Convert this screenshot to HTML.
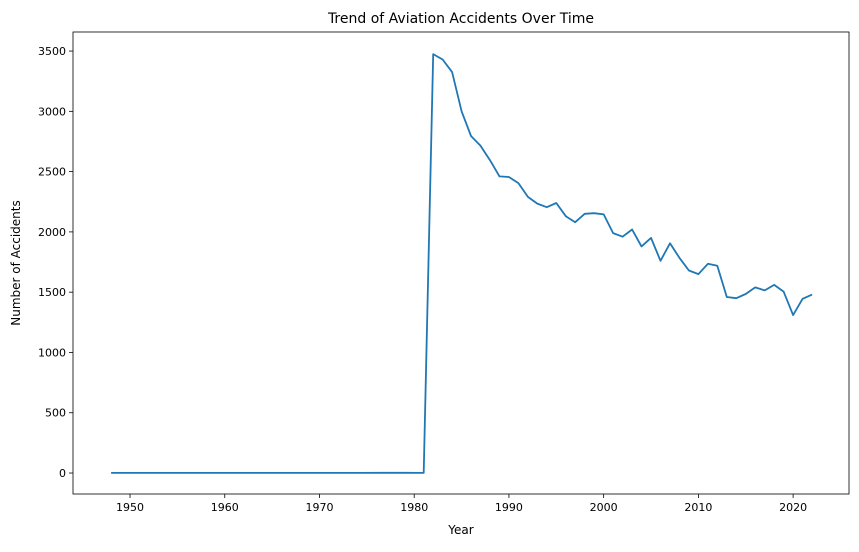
<!DOCTYPE html>
<html><head><meta charset="utf-8"><style>
body{margin:0;background:#fff;font-family:"Liberation Sans","DejaVu Sans",sans-serif}
svg text{font-family:"DejaVu Sans","Liberation Sans",sans-serif}
</style></head><body>
<svg id="chart" width="859" height="547" viewBox="0 0 859 547" xmlns="http://www.w3.org/2000/svg">
<rect width="859" height="547" fill="#fff"/>
<text x="461" y="23" text-anchor="middle" font-size="14">Trend of Aviation Accidents Over Time</text>
<g id="axes"></g>
<text x="461" y="534" text-anchor="middle" font-size="12">Year</text>
<text transform="translate(20,263) rotate(-90)" text-anchor="middle" font-size="12">Number of Accidents</text>
</svg>
<script>
const years=[1948,1962,1974,1977,1979,1981,1982,1983,1984,1985,1986,1987,1988,1989,1990,1991,1992,1993,1994,1995,1996,1997,1998,1999,2000,2001,2002,2003,2004,2005,2006,2007,2008,2009,2010,2011,2012,2013,2014,2015,2016,2017,2018,2019,2020,2021,2022];
const accidents=[1,1,1,2,2,1,3475,3430,3325,3000,2795,2715,2595,2460,2455,2405,2290,2235,2205,2240,2130,2080,2150,2155,2145,1990,1960,2020,1880,1950,1760,1905,1785,1680,1650,1735,1720,1460,1450,1485,1540,1515,1560,1505,1310,1445,1480];
const xTicks=[1950,1960,1970,1980,1990,2000,2010,2020];
const yTicks=[0,500,1000,1500,2000,2500,3000,3500];
const L=73,R=849,T=32,B=494;
const xMin=1943.98,xMax=2025.9,yMin=-174,yMax=3658;
const xs=v=>L+(v-xMin)/(xMax-xMin)*(R-L);
const ys=v=>B-(v-yMin)/(yMax-yMin)*(B-T);
const NS="http://www.w3.org/2000/svg";
const g=document.getElementById('axes');
function mk(t,a){const e=document.createElementNS(NS,t);for(const k in a)e.setAttribute(k,a[k]);g.appendChild(e);return e;}
xTicks.forEach(v=>{
 const x=xs(v);
 const t=mk('line',{x1:x,x2:x,y1:B,y2:B+4,stroke:'#000','stroke-width':0.8});
 
 
 const l=mk('text',{x:x,y:B+17,'text-anchor':'middle','font-size':11});
 l.textContent=v;
 
 
});
yTicks.forEach(v=>{
 const y=ys(v);
 const t=mk('line',{x1:L-4,x2:L,y1:y,y2:y,stroke:'#000','stroke-width':0.8});
 
 
 const l=mk('text',{x:L-7,y:y+4,'text-anchor':'end','font-size':11});
 l.textContent=v;
 
 
});
const d=years.map((y,i)=>(i?'L':'M')+xs(y).toFixed(1)+','+ys(accidents[i]).toFixed(1)).join('');
const p=mk('path',{d:d,fill:'none',stroke:'#1f77b4','stroke-width':1.8,'stroke-linejoin':'round'});


const f=mk('rect',{x:L,y:T,width:R-L,height:B-T,fill:'none',stroke:'#000','stroke-width':0.8});


</script>
</body></html>
